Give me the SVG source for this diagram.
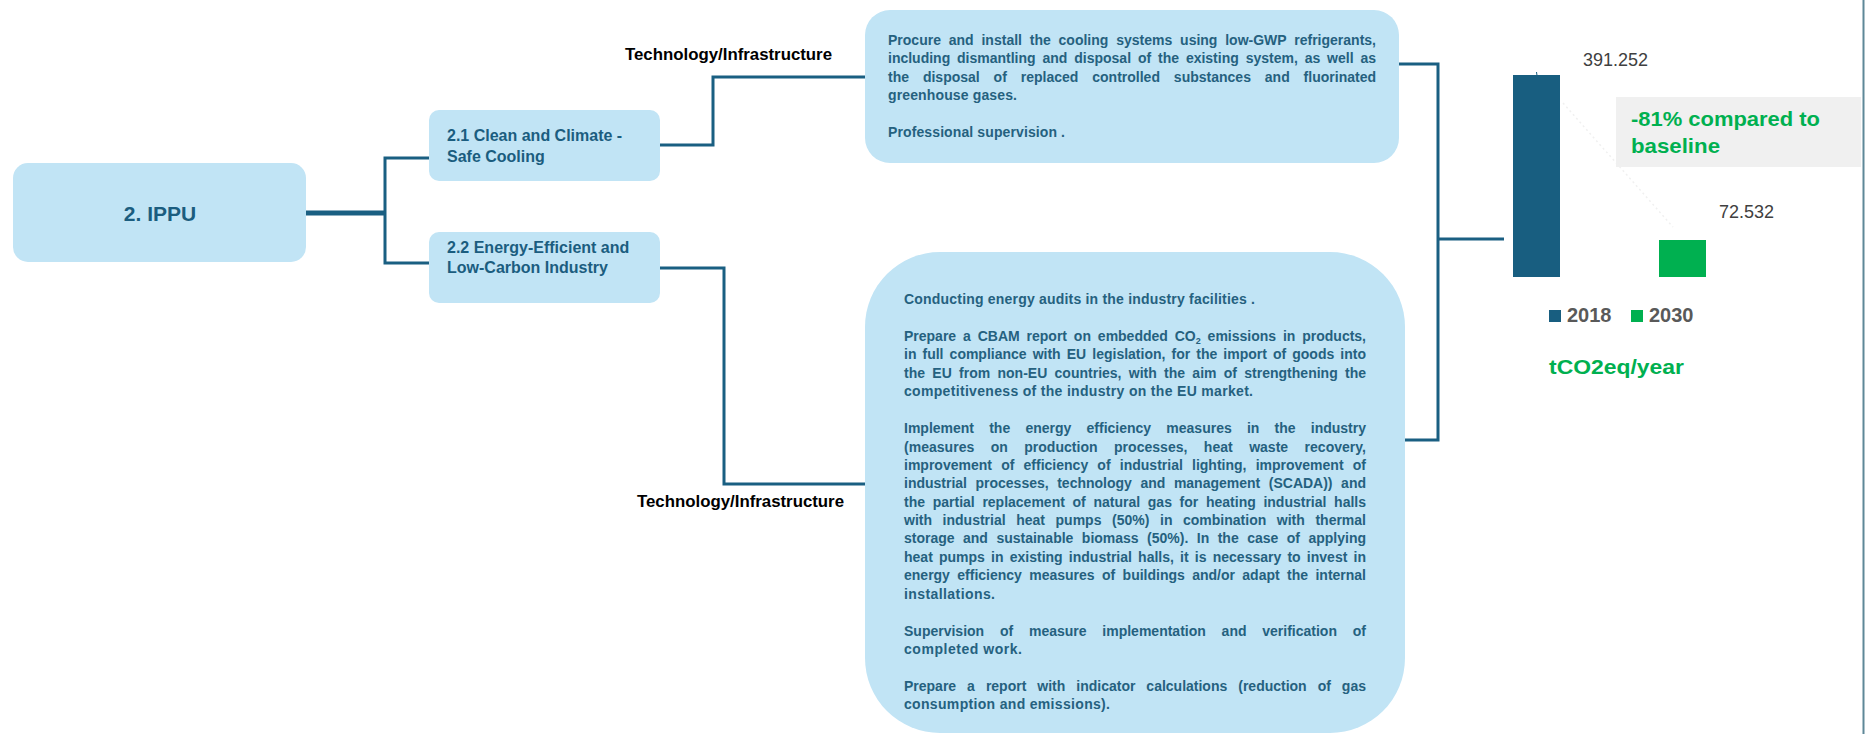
<svg xmlns="http://www.w3.org/2000/svg" width="1870" height="734" viewBox="0 0 1870 734">
  <style>
    .box { fill: #c1e4f5; }
    .title { font-family: "Liberation Sans", Arial, sans-serif; font-weight: bold; fill: #1b5d7f; }
    .desc { font-family: "Liberation Sans", Arial, sans-serif; font-weight: bold; font-size: 14px; fill: #25617f; }
    .tag { font-family: "Liberation Sans", Arial, sans-serif; font-weight: bold; font-size: 16px; fill: #000000; }
    .conn { fill: none; stroke: #1a5f82; stroke-width: 3; }
    .num { font-family: "Liberation Sans", Arial, sans-serif; font-size: 18px; fill: #404040; }
    .legend { font-family: "Liberation Sans", Arial, sans-serif; font-weight: bold; font-size: 20px; fill: #595959; }
    .green { font-family: "Liberation Sans", Arial, sans-serif; font-weight: bold; font-size: 21px; fill: #00b050; }
  </style>

  <rect width="1870" height="734" fill="#ffffff"/>

  <!-- connectors -->
  <g id="connectors">
    <line x1="306" y1="213" x2="386" y2="213" stroke="#1a5f82" stroke-width="5"/>
    <path class="conn" d="M429,158 H385 V263 H429"/>
    <path class="conn" d="M660,145 H713 V77 H866"/>
    <path class="conn" d="M660,268 H724 V484 H866"/>
    <path class="conn" d="M1399,64 H1438 V440 H1405"/>
    <path class="conn" d="M1438,239 H1504"/>
  </g>

  <!-- labels on connectors -->
  <text class="tag" x="625" y="60" textLength="207" lengthAdjust="spacingAndGlyphs">Technology/Infrastructure</text>
  <text class="tag" x="637" y="507" textLength="207" lengthAdjust="spacingAndGlyphs">Technology/Infrastructure</text>

  <!-- root node -->
  <g id="node-ippu">
    <rect class="box" x="13" y="163" width="293" height="99" rx="15"/>
    <text class="title" x="160" y="221" font-size="21" text-anchor="middle">2. IPPU</text>
  </g>

  <!-- sub-sector nodes -->
  <g id="node-cooling">
    <rect class="box" x="429" y="110" width="231" height="71" rx="10"/>
    <text class="title" x="447" y="141" font-size="16">2.1 Clean and Climate -</text>
    <text class="title" x="447" y="162" font-size="16">Safe Cooling</text>
  </g>

  <g id="node-industry">
    <rect class="box" x="429" y="232" width="231" height="71" rx="10"/>
    <text class="title" x="447" y="253" font-size="16">2.2 Energy-Efficient and</text>
    <text class="title" x="447" y="273" font-size="16">Low-Carbon Industry</text>
  </g>

  <!-- measures for cooling (justified lines: word-spacing + textLength) -->
  <g id="node-cooling-measures">
    <rect class="box" x="865" y="10" width="534" height="153" rx="25"/>
    <text class="desc" x="888" y="45" word-spacing="3.9" textLength="488" lengthAdjust="spacing">Procure and install the cooling systems using low-GWP refrigerants,</text>
    <text class="desc" x="888" y="63" word-spacing="3" textLength="488" lengthAdjust="spacing">including dismantling and disposal of the existing system, as well as</text>
    <text class="desc" x="888" y="82" word-spacing="10" textLength="488" lengthAdjust="spacing">the disposal of replaced controlled substances and fluorinated</text>
    <text class="desc" x="888" y="100" textLength="129" lengthAdjust="spacing">greenhouse gases.</text>
    <text class="desc" x="888" y="137" textLength="177" lengthAdjust="spacing">Professional supervision .</text>
  </g>

  <!-- measures for industry -->
  <g id="node-industry-measures">
    <rect class="box" x="865" y="252" width="540" height="481" rx="75"/>
    <text class="desc" x="904" y="304" textLength="351" lengthAdjust="spacing">Conducting energy audits in the industry facilities .</text>

    <text class="desc" x="904" y="341" word-spacing="3" textLength="462" lengthAdjust="spacing">Prepare a CBAM report on embedded CO<tspan font-size="9" dy="3">2</tspan><tspan dy="-3"> emissions in products,</tspan></text>
    <text class="desc" x="904" y="359" word-spacing="2.2" textLength="462" lengthAdjust="spacing">in full compliance with EU legislation, for the import of goods into</text>
    <text class="desc" x="904" y="378" word-spacing="3.4" textLength="462" lengthAdjust="spacing">the EU from non-EU countries, with the aim of strengthening the</text>
    <text class="desc" x="904" y="396" textLength="349" lengthAdjust="spacing">competitiveness  of the industry on the EU market.</text>

    <text class="desc" x="904" y="433" word-spacing="11.3" textLength="462" lengthAdjust="spacing">Implement the energy efficiency measures in the industry</text>
    <text class="desc" x="904" y="452" word-spacing="12.5" textLength="462" lengthAdjust="spacing">(measures on production processes, heat waste recovery,</text>
    <text class="desc" x="904" y="470" word-spacing="5.3" textLength="462" lengthAdjust="spacing">improvement of efficiency of industrial lighting, improvement of</text>
    <text class="desc" x="904" y="488" word-spacing="4.7" textLength="462" lengthAdjust="spacing">industrial processes, technology and management (SCADA)) and</text>
    <text class="desc" x="904" y="507" word-spacing="3.8" textLength="462" lengthAdjust="spacing">the partial replacement of natural gas for heating industrial halls</text>
    <text class="desc" x="904" y="525" word-spacing="6.7" textLength="462" lengthAdjust="spacing">with industrial heat pumps (50%) in combination with thermal</text>
    <text class="desc" x="904" y="543" word-spacing="4.6" textLength="462" lengthAdjust="spacing">storage and sustainable biomass (50%). In the case of applying</text>
    <text class="desc" x="904" y="562" word-spacing="2.3" textLength="462" lengthAdjust="spacing">heat pumps in existing industrial halls, it is necessary to invest in</text>
    <text class="desc" x="904" y="580" word-spacing="3.5" textLength="462" lengthAdjust="spacing">energy efficiency measures of buildings and/or adapt the internal</text>
    <text class="desc" x="904" y="599" textLength="91" lengthAdjust="spacing">installations.</text>

    <text class="desc" x="904" y="636" word-spacing="11.9" textLength="462" lengthAdjust="spacing">Supervision of measure implementation and verification of</text>
    <text class="desc" x="904" y="654" textLength="118" lengthAdjust="spacing">completed work.</text>

    <text class="desc" x="904" y="691" word-spacing="7.1" textLength="462" lengthAdjust="spacing">Prepare a report with indicator calculations (reduction of gas</text>
    <text class="desc" x="904" y="709" textLength="206" lengthAdjust="spacing">consumption and emissions).</text>
  </g>

  <!-- emissions chart -->
  <g id="chart">
    <line x1="1563" y1="103" x2="1673" y2="227" stroke="#f0f0f0" stroke-width="1.5" stroke-dasharray="2 3"/>
    <rect x="1513" y="75" width="47" height="202" fill="#185e80"/>
    <line x1="1536.5" y1="72" x2="1537" y2="75.5" stroke="#185e80" stroke-width="1"/>
    <rect x="1659" y="240" width="47" height="37" fill="#00b050"/>
    <text class="num" x="1583" y="66">391.252</text>
    <text class="num" x="1719" y="218">72.532</text>

    <rect x="1616" y="97" width="245" height="70" fill="#f0f0f0"/>
    <text class="green" x="1631" y="126" textLength="189" lengthAdjust="spacingAndGlyphs">-81% compared to</text>
    <text class="green" x="1631" y="153" textLength="89" lengthAdjust="spacingAndGlyphs">baseline</text>

    <rect x="1549" y="310" width="12" height="12" fill="#185e80"/>
    <text class="legend" x="1567" y="322">2018</text>
    <rect x="1631" y="310" width="12" height="12" fill="#00b050"/>
    <text class="legend" x="1649" y="322">2030</text>

    <text class="green" x="1549" y="374" textLength="135" lengthAdjust="spacingAndGlyphs">tCO2eq/year</text>
  </g>

  <!-- right frame edge -->
  <line x1="1863.5" y1="0" x2="1863.5" y2="734" stroke="#5e8898" stroke-width="2"/>
</svg>
